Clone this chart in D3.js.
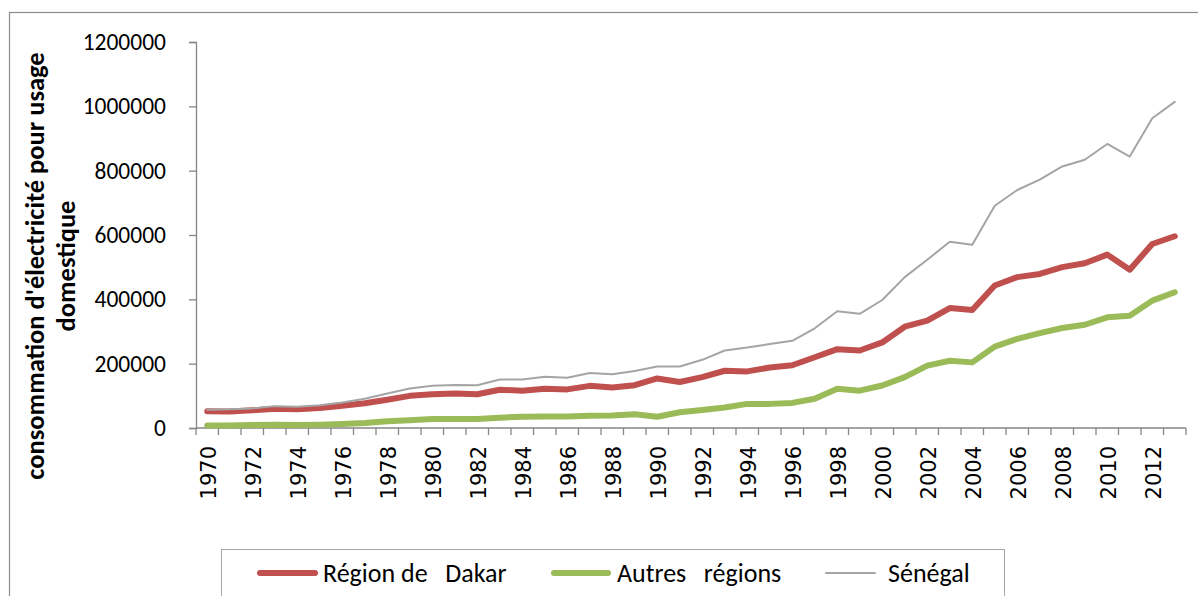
<!DOCTYPE html>
<html>
<head>
<meta charset="utf-8">
<script src="https://cdn.jsdelivr.net/npm/d3@7"></script>
<style>
  body { margin: 0; background: #fff; }
  svg { display: block; }
</style>
</head>
<body>
<div id="chart"></div>
<script>
// categories
var years = [1970, 1971, 1972, 1973, 1974, 1975, 1976, 1977, 1978, 1979,
  1980, 1981, 1982, 1983, 1984, 1985, 1986, 1987, 1988, 1989,
  1990, 1991, 1992, 1993, 1994, 1995, 1996, 1997, 1998, 1999,
  2000, 2001, 2002, 2003, 2004, 2005, 2006, 2007, 2008, 2009,
  2010, 2011, 2012, 2013];

// series values
var dakar = [52000, 51000, 55000, 60000, 58000, 62000, 69500, 77000, 88000, 100000,
  105000, 107000, 105000, 119000, 116000, 122000, 120000, 131000, 126000, 133000,
  154000, 143000, 158000, 178000, 176000, 188000, 195000, 220000, 245000, 241000,
  266000, 315000, 334000, 373000, 367000, 443000, 469000, 479000, 500000, 512000,
  539000, 492000, 572000, 596000];
var autres = [8000, 8000, 9300, 10400, 9300, 10400, 12400, 15500, 21000, 24000,
  28000, 28000, 28000, 32000, 35000, 36000, 36000, 38000, 39000, 42500,
  35000, 49000, 56000, 64000, 75000, 75000, 78000, 91000, 122000, 116000,
  132000, 158000, 194000, 209000, 204000, 253000, 277000, 295000, 311000, 321000,
  344000, 349000, 396000, 422000];
var senegal = [57000, 58000, 61000, 68000, 66000, 70500, 79000, 91000, 107000, 123000,
  131000, 134000, 133000, 151000, 151000, 159000, 156000, 171000, 167000, 177000,
  191000, 191000, 212000, 241000, 250000, 261000, 271000, 310000, 363000, 355000,
  398000, 469000, 523000, 579000, 570000, 691000, 740000, 772000, 813000, 834000,
  883000, 844000, 963000, 1014000];

// tick labels
var yTicks = [0, 200000, 400000, 600000, 800000, 1000000, 1200000];
var xLabels = [1970, 1972, 1974, 1976, 1978, 1980, 1982, 1984, 1986, 1988, 1990,
  1992, 1994, 1996, 1998, 2000, 2002, 2004, 2006, 2008, 2010, 2012];

var seriesNames = ["Région de   Dakar", "Autres   régions", "Sénégal"];
var seriesColors = ["#C0504D", "#9BBB59", "#A5A5A5"];
var seriesWidths = [6, 6, 2];
var yTitle = ["consommation d'électricité pour usage", "domestique"];

var W = 1198, H = 596;
var plotLeft = 196, plotRight = 1186, plotTop = 42, plotBottom = 428;
var calibri = "Carlito, Calibri, Lato, 'Open Sans', sans-serif";
var axisColor = "#868686";

var svg = d3.select("#chart").append("svg")
  .attr("width", W)
  .attr("height", H);

// outer chart border
svg.append("rect")
  .attr("x", 9.5).attr("y", 12.5)
  .attr("width", 1250).attr("height", 700)
  .attr("fill", "none")
  .attr("stroke", "#8c8c8c")
  .attr("stroke-width", 1.2);

var x = d3.scaleBand().domain(years).range([plotLeft, plotRight]).padding(0);
var y = d3.scaleLinear().domain([0, 1200000]).range([plotBottom, plotTop]);

// y axis
var yAxis = svg.append("g")
  .attr("transform", "translate(" + plotLeft + ",0)")
  .call(d3.axisLeft(y).tickValues(yTicks).tickSize(7).tickPadding(23)
    .tickFormat(d3.format("d")));
yAxis.select(".domain").attr("stroke", axisColor).attr("stroke-width", 1.3);
yAxis.selectAll(".tick line").attr("stroke", axisColor).attr("stroke-width", 1.3);
yAxis.selectAll(".tick text")
  .attr("fill", "#000")
  .style("font-family", calibri)
  .style("font-size", "23.5px");

// x axis: line + ticks at category boundaries
var xg = svg.append("g");
xg.append("line")
  .attr("x1", plotLeft).attr("x2", plotRight)
  .attr("y1", plotBottom).attr("y2", plotBottom)
  .attr("stroke", axisColor).attr("stroke-width", 1.3);
var bounds = years.map(function (d) { return x(d); }).concat([plotRight]);
xg.selectAll(".xt")
  .data(bounds)
  .enter()
  .append("line")
  .attr("x1", function (d) { return d; })
  .attr("x2", function (d) { return d; })
  .attr("y1", plotBottom)
  .attr("y2", plotBottom + 7)
  .attr("stroke", axisColor).attr("stroke-width", 1.3);
xg.selectAll(".xl")
  .data(xLabels)
  .enter()
  .append("text")
  .attr("transform", function (d) {
    return "translate(" + (x(d) + x.bandwidth() / 2 + 1) + "," + (plotBottom + 18) + ") rotate(-90)";
  })
  .attr("text-anchor", "end")
  .attr("dy", "0.35em")
  .style("font-family", "'DejaVu Sans', sans-serif")
  .style("font-size", "21px")
  .attr("fill", "#000")
  .text(function (d) { return d; });

// y title
svg.selectAll(".ytitle")
  .data(yTitle)
  .enter()
  .append("text")
  .attr("transform", function (d, i) {
    return "translate(" + (35 + i * 31) + ",266) rotate(-90)";
  })
  .attr("text-anchor", "middle")
  .attr("dy", "0.35em")
  .style("font-family", calibri)
  .style("font-weight", "bold")
  .style("font-size", "26.5px")
  .attr("fill", "#000")
  .text(function (d) { return d; });

// lines
var allSeries = [dakar, autres, senegal];
var line = d3.line()
  .x(function (d, i) { return x(years[i]) + x.bandwidth() / 2; })
  .y(function (d) { return y(d); });

svg.selectAll(".series")
  .data(allSeries)
  .enter()
  .append("path")
  .attr("d", line)
  .attr("fill", "none")
  .attr("stroke", function (d, i) { return seriesColors[i]; })
  .attr("stroke-width", function (d, i) { return seriesWidths[i]; })
  .attr("stroke-linejoin", "round")
  .attr("stroke-linecap", "round");

// legend
svg.append("rect")
  .attr("x", 221.5).attr("y", 549.5)
  .attr("width", 783).attr("height", 100)
  .attr("fill", "#fff")
  .attr("stroke", "#a6a6a6")
  .attr("stroke-width", 1);

var legendX = [[260, 315, 323], [554, 608, 617], [826, 875, 888]];
var legend = svg.selectAll(".leg")
  .data(seriesNames)
  .enter()
  .append("g");
legend.append("line")
  .attr("x1", function (d, i) { return legendX[i][0]; })
  .attr("x2", function (d, i) { return legendX[i][1]; })
  .attr("y1", 573).attr("y2", 573)
  .attr("stroke", function (d, i) { return seriesColors[i]; })
  .attr("stroke-width", function (d, i) { return seriesWidths[i]; })
  .attr("stroke-linecap", "round");
legend.append("text")
  .attr("x", function (d, i) { return legendX[i][2]; })
  .attr("y", 573)
  .attr("dy", "0.35em")
  .style("font-family", calibri)
  .style("font-size", "26px")
  .style("white-space", "pre")
  .attr("fill", "#000")
  .text(function (d) { return d; });
</script>
</body>
</html>
